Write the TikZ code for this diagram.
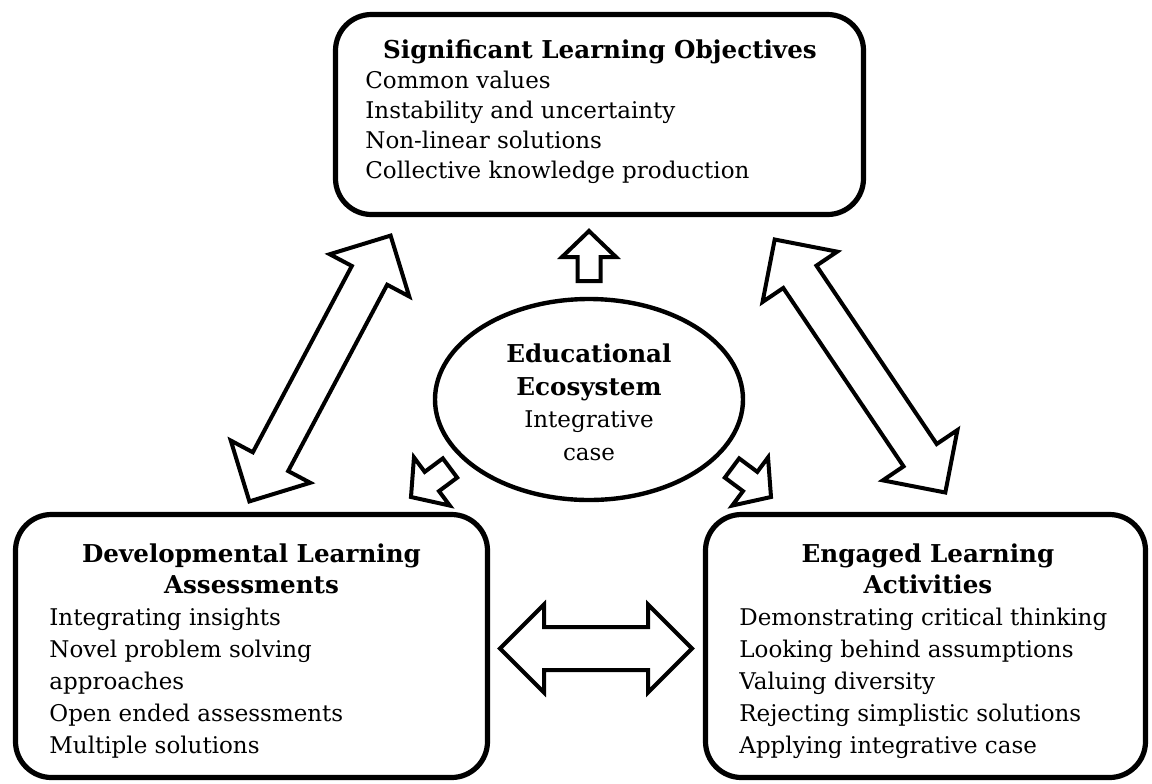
\documentclass[tikz,border=0pt]{standalone}
\usepackage{fontspec}
\setmainfont{DejaVu Serif}
\usetikzlibrary{calc,shapes.geometric}

% block arrow with two heads: tip, tip, shaft half width, head half width, head length
\newcommand{\dblarrow}[5]{%
  \draw[blockarrow] (#1)
    -- ($(#1)!#5!(#2)!#4!90:(#2)$)
    -- ($(#1)!#5!(#2)!#3!90:(#2)$)
    -- ($(#2)!#5!(#1)!#3!-90:(#1)$)
    -- ($(#2)!#5!(#1)!#4!-90:(#1)$)
    -- (#2)
    -- ($(#2)!#5!(#1)!#4!90:(#1)$)
    -- ($(#2)!#5!(#1)!#3!90:(#1)$)
    -- ($(#1)!#5!(#2)!#3!-90:(#2)$)
    -- ($(#1)!#5!(#2)!#4!-90:(#2)$)
    -- cycle;}
% block arrow with one head: tail, tip, shaft half width, head half width, head length
\newcommand{\sglarrow}[5]{%
  \draw[blockarrow] (#2)
    -- ($(#2)!#5!(#1)!#4!90:(#1)$)
    -- ($(#2)!#5!(#1)!#3!90:(#1)$)
    -- ($(#1)!#3!-90:(#2)$)
    -- ($(#1)!#3!90:(#2)$)
    -- ($(#2)!#5!(#1)!#3!-90:(#1)$)
    -- ($(#2)!#5!(#1)!#4!-90:(#1)$)
    -- cycle;}

\begin{document}
\begin{tikzpicture}[x=0.5pt, y=-0.5pt,
    panel/.style={draw, line width=2.6pt, rounded corners=18pt, inner sep=0pt},
    blockarrow/.style={draw, line width=2pt, line join=miter, fill=white},
    label/.style={inner sep=0pt, font=\fontsize{11.5}{14}\selectfont},
    head/.style={inner sep=0pt, font=\fontsize{12.3}{14}\selectfont\bfseries}]

    \useasboundingbox (0,0) rectangle (1152,783);

    % boxes
    \node[panel, minimum width=264pt, minimum height=100pt] (obj) at (599.5,114.5) {};
    \node[panel, minimum width=236pt, minimum height=131.5pt] (assess) at (251.5,646) {};
    \node[panel, minimum width=220pt, minimum height=131.5pt] (activ) at (925.5,646) {};
    \node[draw, ellipse, line width=2.2pt, inner sep=0pt,
          minimum width=154pt, minimum height=100.5pt] (eco) at (589,399.5) {};

    % texts
    \node[head, anchor=base] (objhead) at (600,58) {Significant Learning Objectives};
    \foreach \t [count=\i] in {Common values, Instability and uncertainty,
        Non-linear solutions, Collective knowledge production}
        \node[label, anchor=base west] (obj\i) at (365,58+30*\i) {\t};

    \node[head, anchor=base] (assesshead1) at (251.5,562) {Developmental Learning};
    \node[head, anchor=base] (assesshead2) at (251.5,593) {Assessments};
    \foreach \t [count=\i] in {Integrating insights, Novel problem solving,
        approaches, Open ended assessments, Multiple solutions}
        \node[label, anchor=base west] (assess\i) at (49,593+32*\i) {\t};

    \node[head, anchor=base] (activhead1) at (928,562) {Engaged Learning};
    \node[head, anchor=base] (activhead2) at (928,593) {Activities};
    \foreach \t [count=\i] in {Demonstrating critical thinking, Looking behind assumptions,
        Valuing diversity, Rejecting simplistic solutions, Applying integrative case}
        \node[label, anchor=base west] (activ\i) at (739,593+32*\i) {\t};

    \node[head, anchor=base] (ecohead1) at (589,362) {Educational};
    \node[head, anchor=base] (ecohead2) at (589,395) {Ecosystem};
    \node[label, anchor=base] (ecotext1) at (589,427) {Integrative};
    \node[label, anchor=base] (ecotext2) at (589,460) {case};

    % arrow ends
    \coordinate (ecoup) at (589,281);
    \coordinate (objdown) at (589,231);
    \coordinate (objleft) at (390.6,235.6);
    \coordinate (assessup) at (249.4,501.4);
    \coordinate (objright) at (774.7,239.5);
    \coordinate (activup) at (945.3,492.5);
    \coordinate (ecoleft) at (450,468);
    \coordinate (assesscorner) at (411,497);
    \coordinate (ecoright) at (732,468);
    \coordinate (activcorner) at (771,497);
    \coordinate (assessright) at (500,648.5);
    \coordinate (activleft) at (692,648.5);

    % arrows
    \sglarrow{ecoup}{objdown}{5.75pt}{13.5pt}{13pt}
    \dblarrow{objleft}{assessup}{10pt}{22.5pt}{22.5pt}
    \dblarrow{objright}{activup}{10pt}{22.5pt}{22.5pt}
    \sglarrow{ecoleft}{assesscorner}{6pt}{15pt}{13pt}
    \sglarrow{ecoright}{activcorner}{6pt}{15pt}{13pt}
    \dblarrow{assessright}{activleft}{10.75pt}{22pt}{22pt}

\end{tikzpicture}
\end{document}
